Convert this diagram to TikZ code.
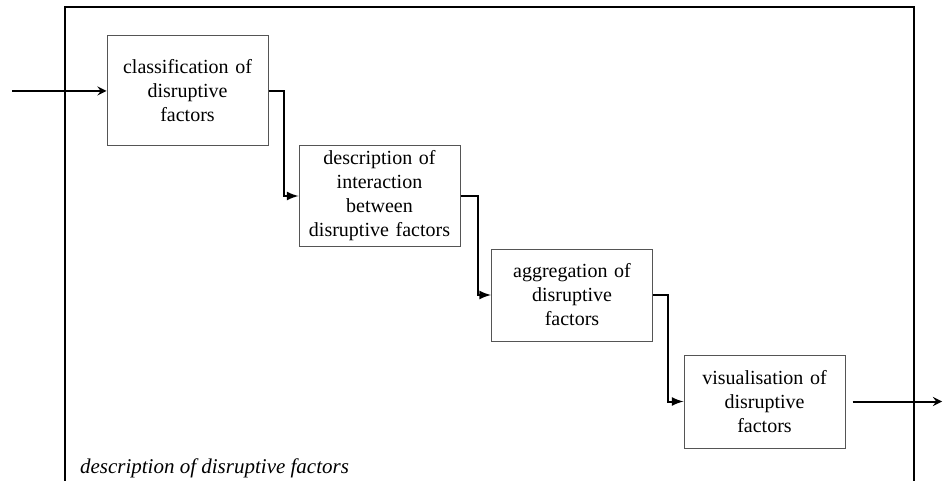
\documentclass[tikz,border=0pt]{standalone}
\usepackage{fontspec}
\setmainfont{Liberation Serif}
\usepackage{xcolor}
\usepackage{tikz}
\usetikzlibrary{arrows, positioning}
\definecolor{boxline}{HTML}{555555}

\tikzset{
    procbox/.style={draw=boxline, line width=0.5pt, align=center, text width=76pt, minimum width=80.5pt, inner sep=2pt, font=\fontsize{10}{12}\selectfont},
    flow/.style={line width=1pt, -latex},
    inout/.style={line width=1pt, -stealth}
}

\begin{document}
\begin{tikzpicture}[x=0.5pt, y=-0.5pt]
        \useasboundingbox (0,0) rectangle (943,481);
        \draw[line width=0.6pt] (65,481) |- (914,7) -- (914,481);
        \node[procbox, minimum height=55pt] (classify) at (187.5,91) {classification of\\ disruptive\\ factors};
        \node[procbox, minimum height=50pt] (interact) at (379.5,196) {description of\\ interaction\\ between\\ disruptive factors};
        \node[procbox, minimum height=46pt] (aggregate) at (572,295) {aggregation of\\ disruptive\\ factors};
        \node[procbox, minimum height=46.5pt] (visualise) at (764.5,401.5) {visualisation of\\ disruptive\\ factors};
        \node[anchor=base west, font=\fontsize{10.5}{12}\selectfont\itshape] (title) at (73,473) {description of disruptive factors};
        \coordinate (in) at (12,91);
        \coordinate (out) at (942,401.5);
        \draw[inout] (in) -- (classify.west);
        \draw[flow] (classify.east) -- ++(15,0) |- (interact.west);
        \draw[flow] (interact.east) -- ++(17,0) |- (aggregate.west);
        \draw[flow] (aggregate.east) -- ++(15,0) |- (visualise.west);
        \draw[inout, shorten <=3.5pt] (visualise.east) -- (out);
    \end{tikzpicture}
\end{document}
